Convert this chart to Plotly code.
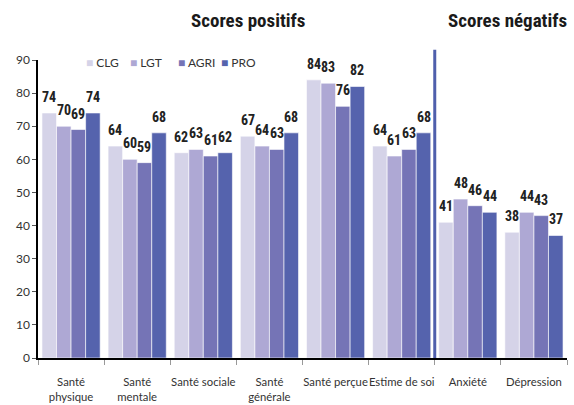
import plotly.graph_objects as go

# Categories (x axis) and series values
categories = ["Santé<br>physique", "Santé<br>mentale", "Santé sociale", "Santé<br>générale",
              "Santé perçue", "Estime de soi", "Anxiété", "Dépression"]
series_names = ["CLG", "LGT", "AGRI", "PRO"]
clg = [74, 64, 62, 67, 84, 64, 41, 38]
lgt = [70, 60, 63, 64, 83, 61, 48, 44]
agri = [69, 59, 61, 63, 76, 63, 46, 43]
pro = [74, 68, 62, 68, 82, 68, 44, 37]
y_ticks = list(range(0, 100, 10))
section_titles = ["Scores positifs", "Scores négatifs"]

series_values = [clg, lgt, agri, pro]
colors = ["#d5d3e8", "#aea8d4", "#7574b6", "#5563ad"]

BOLD_FONT = "Roboto Condensed, Roboto, sans-serif"
TEXT_FONT = "Lato, Roboto, sans-serif"
BARGAP = 0.12

fig = go.Figure()
for name, vals, col in zip(series_names, series_values, colors):
    fig.add_trace(go.Bar(
        x=categories, y=vals, name=name, showlegend=False,
        marker=dict(color=col, line=dict(color="white", width=0.6)),
    ))

# value labels above each bar
n = len(series_names)
w = (1 - BARGAP) / n
for j, vals in enumerate(series_values):
    off = (j - (n - 1) / 2) * w
    for i, v in enumerate(vals):
        fig.add_annotation(
            x=i + off, y=v, xref="x", yref="y", text=f"<b>{v}</b>",
            showarrow=False, xanchor="center", yanchor="middle", yshift=16,
            font=dict(family=BOLD_FONT, size=14, color="#222222"),
        )

# compact legend row: coloured square + series name
legend_x = [0.087, 0.170, 0.260, 0.343]
for name, col, lx in zip(series_names, colors, legend_x):
    fig.add_annotation(
        x=lx, y=0.993, xref="paper", yref="paper", xanchor="left", yanchor="middle",
        text=f"<span style='color:{col}'>■</span> {name}", showarrow=False,
        font=dict(family=TEXT_FONT, size=12, color="#333333"),
    )

# separator between positive and negative scores
fig.add_shape(type="line", xref="x", yref="paper",
              x0=5.5, x1=5.5, y0=0, y1=1.034,
              line=dict(color="#4f5fac", width=3))

# section titles
for title, tx in zip(section_titles, [0.397, 0.887]):
    fig.add_annotation(x=tx, y=1.131, xref="paper", yref="paper", text=f"<b>{title}</b>",
                       showarrow=False, xanchor="center", yanchor="middle",
                       font=dict(family=BOLD_FONT, size=19, color="#1a1a1a"))

fig.update_layout(
    width=574, height=405,
    margin=dict(l=38, r=7, t=60, b=47, autoexpand=False),
    paper_bgcolor="white", plot_bgcolor="white",
    barmode="group", bargap=BARGAP, bargroupgap=0,
    font=dict(family=TEXT_FONT, color="#333333"),
    showlegend=False,
)
fig.update_yaxes(range=[0, 90], tickvals=y_ticks, showgrid=False, zeroline=False,
                 showline=True, linecolor="black", linewidth=1.5,
                 ticks="outside", ticklen=4, tickcolor="#555555", automargin=False,
                 tickfont=dict(family=TEXT_FONT, size=12, color="#333333"))
fig.update_xaxes(showgrid=False, showline=True, linecolor="black", linewidth=1.5,
                 ticks="outside", tickson="boundaries", ticklen=5, tickcolor="#999999",
                 tickangle=0, automargin=False, ticklabelstandoff=13,
                 tickfont=dict(family=TEXT_FONT, size=11.3, color="#333333"))

fig.write_html("out.html")
